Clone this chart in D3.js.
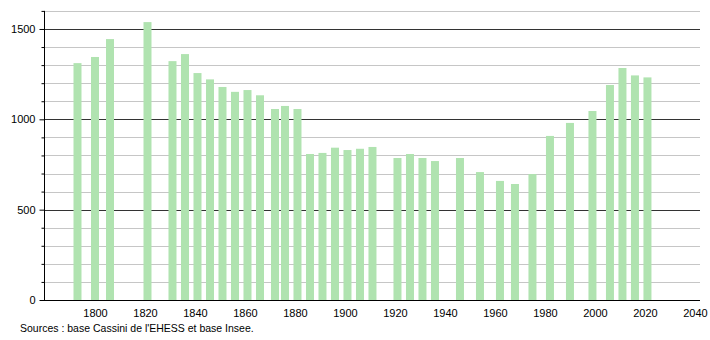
<!DOCTYPE html>
<html><head><meta charset="utf-8">
<script src="https://cdn.jsdelivr.net/npm/d3@7"></script>
<style>body{margin:0;background:#fff}svg{display:block;font-family:"Liberation Sans",Arial,sans-serif}</style>
</head><body><svg id="c" width="710" height="340"></svg>
<script>
const years = [1793,1800,1806,1821,1831,1836,1841,1846,1851,1856,1861,1866,1872,1876,1881,1886,1891,1896,1901,1906,1911,1921,1926,1931,1936,1946,1954,1962,1968,1975,1982,1990,1999,2006,2011,2016,2021];
const population = [1311,1345,1444,1538,1322,1361,1256,1221,1179,1152,1162,1133,1057,1074,1057,808,814,843,830,837,847,786,808,786,769,786,708,659,642,697,908,980,1046,1190,1284,1243,1232];
const xTicks = [1800,1820,1840,1860,1880,1900,1920,1940,1960,1980,2000,2020,2040];
const yTicks = [0,500,1000,1500];
const source = "Sources : base Cassini de l'EHESS et base Insee.";

const svg = d3.select("#c");
const x = d3.scaleLinear().domain([1779.6, 2042.3]).range([44, 700.7]);
const y = d3.scaleLinear().domain([0, 1600]).range([300, 10.9]);

// grid
const minor = d3.range(100, 1601, 100).filter(v => v % 500 !== 0);
svg.append("g").selectAll("line").data(minor).join("line")
  .attr("x1", 44).attr("x2", 700).attr("y1", d => Math.round(y(d)) + 0.5).attr("y2", d => Math.round(y(d)) + 0.5)
  .attr("stroke", "#c6c6c6").attr("stroke-width", 1);
svg.append("g").selectAll("line").data(yTicks.filter(v => v > 0)).join("line")
  .attr("x1", 44).attr("x2", 700).attr("y1", d => Math.round(y(d)) + 0.5).attr("y2", d => Math.round(y(d)) + 0.5)
  .attr("stroke", "#333").attr("stroke-width", 1);

// bars
svg.append("g").selectAll("rect").data(years).join("rect")
  .attr("x", d => x(d) - 4).attr("width", 8)
  .attr("y", (d, i) => y(population[i])).attr("height", (d, i) => y(0) - y(population[i]))
  .attr("fill", "#b0e3b0");

// axes
const yAxis = d3.axisLeft(y).tickValues(yTicks).tickSize(5).tickFormat(d3.format("d"));
const gy = svg.append("g").attr("transform", "translate(44.5,0)").call(yAxis);
const yMinor = d3.axisLeft(y).tickValues(minor).tickSize(3).tickFormat("");
svg.append("g").attr("transform", "translate(44.5,0)").call(yMinor).call(g => g.select(".domain").remove());
gy.select(".domain").attr("d", `M0,${y(1600)}V${y(0)}`).attr("stroke", "#000");
gy.selectAll(".tick line").attr("stroke", "#000");
gy.selectAll(".tick text").attr("font-size", 11).attr("fill", "#000").attr("x", -9);

const xAxis = d3.axisBottom(x).tickValues(xTicks).tickSize(0).tickFormat(d3.format("d"));
const gx = svg.append("g").attr("transform", "translate(0,300.5)").call(xAxis);
gx.select(".domain").attr("d", "M40,0H700").attr("stroke", "#000");
gx.selectAll(".tick text").attr("font-size", 11).attr("fill", "#000").attr("dy", "1.2em");

svg.append("text").attr("x", 20).attr("y", 332).attr("font-size", 10.5).attr("fill", "#000").text(source);
</script></body></html>
